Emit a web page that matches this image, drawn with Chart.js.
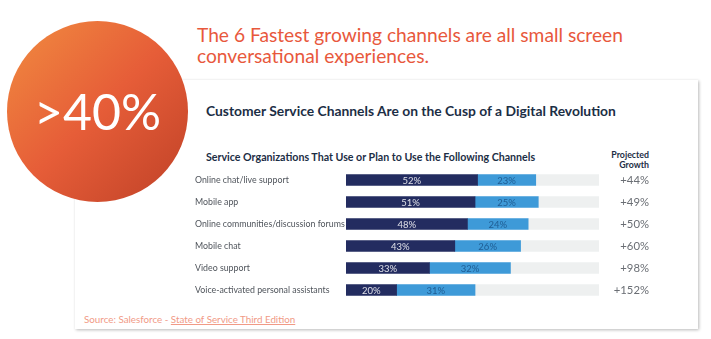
<!DOCTYPE html>
<html>
<head>
<meta charset="utf-8">
<script src="https://cdn.jsdelivr.net/npm/chart.js@4/dist/chart.umd.min.js"></script>
<style>
  html,body{margin:0;padding:0;background:#fff;}
  body{width:711px;height:339px;position:relative;overflow:hidden;font-family:Lato,"Open Sans",sans-serif;}
  .card{position:absolute;left:75px;top:80px;width:623px;height:249px;background:#fff;box-shadow:1px 1px 3px rgba(0,0,0,0.28);}
  .circle{position:absolute;left:7px;top:21px;width:181px;height:181px;border-radius:50%;
    background:linear-gradient(135deg,#f18c40 0%,#e65d38 50%,#bf4127 100%);z-index:3;
    color:#fff;font-family:Lato,sans-serif;font-size:50px;line-height:181px;text-align:center;}
  .headline{position:absolute;left:197px;top:24px;color:#e8583c;font-family:Lato,sans-serif;font-size:19.2px;line-height:21px;font-weight:400;}
  .title{position:absolute;left:206px;top:102px;color:#1c2e45;font-family:Lato,sans-serif;font-weight:700;font-size:13.85px;white-space:nowrap;}
  .subtitle{position:absolute;left:206px;top:150px;color:#1c2e45;font-family:Lato,sans-serif;font-weight:700;font-size:10.65px;white-space:nowrap;}
  .proj{position:absolute;right:62px;top:150px;color:#1c2e45;font-family:Lato,sans-serif;font-weight:700;font-size:8.8px;line-height:10px;text-align:right;}
  .source{position:absolute;left:84px;top:313px;color:#f19a86;font-family:Lato,sans-serif;font-size:9.8px;white-space:nowrap;}
  .source u{text-decoration-thickness:1px;}
  canvas{position:absolute;left:0;top:0;z-index:2;}
</style>
</head>
<body>
<div class="card"></div>
<div class="circle">&gt;40%</div>
<div class="headline">The 6 Fastest growing channels are all small screen<br>conversational experiences.</div>
<div class="title">Customer Service Channels Are on the Cusp of a Digital Revolution</div>
<div class="subtitle">Service Organizations That Use or Plan to Use the Following Channels</div>
<div class="proj">Projected<br>Growth</div>
<div class="source">Source: Salesforce - <u>State of Service Third Edition</u></div>
<canvas id="c" width="711" height="339"></canvas>
<script>
const categories = ["Online chat/live support","Mobile app","Online communities/discussion forums","Mobile chat","Video support","Voice-activated personal assistants"];
const useNow = [52,51,48,43,33,20];
const planToUse = [23,25,24,26,32,31];
const growth = ["+44%","+49%","+50%","+60%","+98%","+152%"];
const remaining = useNow.map((v,i)=>100 - v - planToUse[i]);

const segLabels = {
  id:'segLabels',
  afterDatasetsDraw(chart){
    const ctx = chart.ctx;
    ctx.save();
    ctx.font = '9.5px Lato, sans-serif';
    ctx.textAlign = 'center';
    ctx.textBaseline = 'middle';
    [0,1].forEach(di=>{
      const meta = chart.getDatasetMeta(di);
      const vals = chart.data.datasets[di].data;
      meta.data.forEach((el,i)=>{
        ctx.fillStyle = di===0 ? 'rgba(255,255,255,0.85)' : '#1f5d93';
        ctx.fillText(vals[i]+'%', (el.x + el.base)/2, el.y+0.5);
      });
    });
    ctx.restore();
  }
};

new Chart(document.getElementById('c'),{
  type:'bar',
  data:{
    labels:categories,
    datasets:[
      {label:'Use',data:useNow,backgroundColor:'#232c60',barThickness:11,borderWidth:0},
      {label:'Plan',data:planToUse,backgroundColor:'#3e9ad8',barThickness:11,borderWidth:0},
      {label:'Rest',data:remaining,backgroundColor:'#eef0f0',barThickness:11,borderWidth:0}
    ]
  },
  options:{
    indexAxis:'y',
    responsive:false,
    animation:false,
    events:[],
    layout:{padding:{left:195,right:62,top:169,bottom:38}},
    plugins:{legend:{display:false},tooltip:{enabled:false}},
    scales:{
      x:{stacked:true,min:0,max:100,display:false},
      y:{stacked:true,grid:{display:false},border:{display:false},
         afterFit(s){s.width=151;},
         ticks:{crossAlign:'far',padding:0,color:'#4f545b',font:{family:'Lato, sans-serif',size:8.8}}},
      y2:{type:'category',labels:growth,position:'right',offset:true,grid:{display:false},border:{display:false},
         afterFit(s){s.width=50;},
         ticks:{crossAlign:'far',padding:0,color:'#6a6e74',font:{family:'Lato, sans-serif',size:11.3}}}
    }
  },
  plugins:[segLabels]
});
</script>
</body>
</html>
